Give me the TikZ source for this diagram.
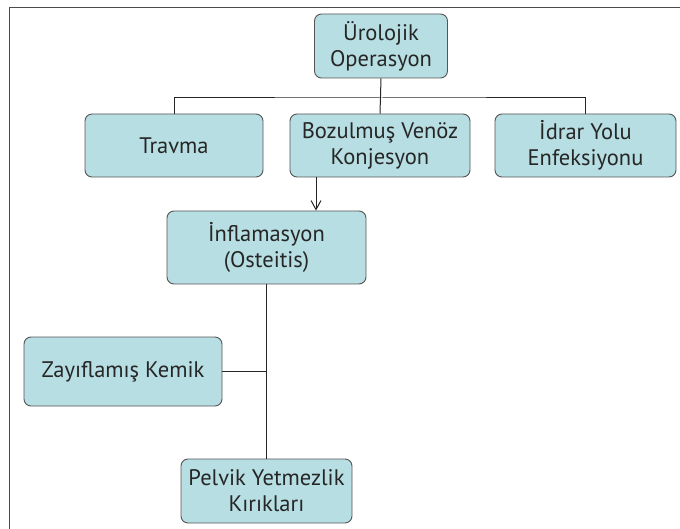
\documentclass[tikz,border=0pt]{standalone}
\usepackage{fontspec}
\setmainfont{PT Sans}
\usetikzlibrary{arrows.meta}
\definecolor{boxfill}{RGB}{183,222,226}
\definecolor{boxline}{RGB}{85,85,85}
\begin{document}
\begin{tikzpicture}[x=1pt,y=-1pt,
  box/.style={draw=boxline,line width=0.9pt,fill=boxfill,rounded corners=7pt,align=center,
    inner sep=0pt,font=\fontsize{22.5}{26}\selectfont,text=black!85},
  conn/.style={line width=1pt,black!85}]
\useasboundingbox (0,0) rectangle (680,529);
\draw[line width=0.8pt,black!70] (9,529) -- (9,7) -- (680,7);
\node[box,minimum width=133pt,minimum height=64pt] (top) at (381,46) {Ürolojik\\Operasyon};
\node[box,minimum width=178pt,minimum height=63pt] (tr) at (174,145.5) {Travma};
\node[box,minimum width=180pt,minimum height=63pt] (bz) at (380,145.5) {Bozulmuş Venöz\\Konjesyon};
\node[box,minimum width=181pt,minimum height=63pt] (id) at (585.5,145.5) {İdrar Yolu\\Enfeksiyonu};
\node[box,minimum width=199pt,minimum height=73pt] (inf) at (266.5,247.5) {İnflamasyon\\(Osteitis)};
\node[box,minimum width=198pt,minimum height=69pt] (zk) at (123,371.5) {Zayıflamış Kemik};
\node[box,minimum width=171pt,minimum height=64pt] (pv) at (266.5,491) {Pelvik Yetmezlik\\Kırıkları};
\coordinate (bus) at (381,98);
\coordinate (ast) at (316,177);
\draw[conn] (top.south) -- (bz.north);
\draw[conn] (tr.north) |- (bus) -| (id.north);
\draw[conn,-{Straight Barb[length=9pt,width=10pt]}] (ast) -- (ast |- inf.north);
\draw[conn] (inf.south) -- (pv.north);
\draw[conn] (zk.east) -- (zk.east -| inf.south);
\end{tikzpicture}
\end{document}
